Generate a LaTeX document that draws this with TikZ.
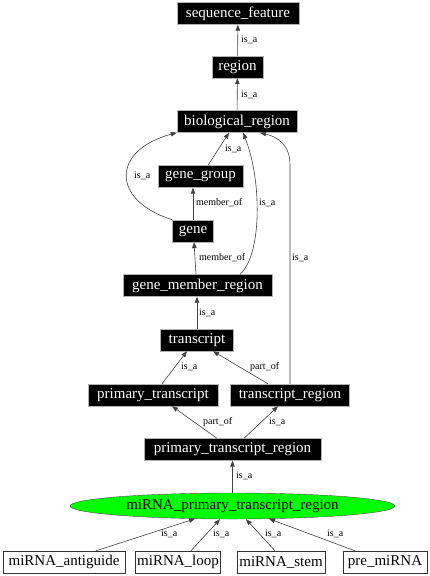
\documentclass[tikz,border=0pt]{standalone}
\usepackage{fontspec}
\setmainfont{Liberation Serif}
\usetikzlibrary{arrows.meta,shapes.geometric}
\tikzset{
  term/.style={rectangle, fill=black, draw=gray!60, text=white, font=\fontsize{15}{17}\selectfont, inner xsep=1pt, inner ysep=0pt, minimum height=22pt},
  leaf/.style={rectangle, fill=white, draw=black!80, text=black, font=\fontsize{15}{17}\selectfont, inner xsep=1pt, inner ysep=0pt, minimum height=22pt},
  focus/.style={ellipse, fill=green, draw=black!70, font=\fontsize{15}{17}\selectfont, inner sep=0pt, minimum width=325pt, minimum height=26pt},
  lbl/.style={font=\fontsize{10}{12}\selectfont, inner sep=0pt, anchor=west},
  edge/.style={draw=black!75, line width=0.6pt, -{Triangle[length=6pt,width=4.5pt]}}
}
\begin{document}
\begin{tikzpicture}[x=1pt,y=-1pt]
\useasboundingbox (0,0) rectangle (430,576);
% nodes
\node[term, minimum width=122pt] (sf) at (238,13.5) {sequence\_feature};
\node[term, minimum width=51pt] (reg) at (237.5,67) {region};
\node[term, minimum width=120pt] (bio) at (237,121.5) {biological\_region};
\node[term, minimum width=85pt] (gg) at (200.5,176.5) {gene\_group};
\node[term, minimum width=41pt] (gene) at (193,231) {gene};
\node[term, minimum width=149pt] (gmr) at (197.5,285.5) {gene\_member\_region};
\node[term, minimum width=73pt] (tr) at (197,340) {transcript};
\node[term, minimum width=130pt] (pt) at (153,395) {primary\_transcript};
\node[term, minimum width=119pt] (treg) at (290,395) {transcript\_region};
\node[term, minimum width=177pt] (ptr) at (232.5,449.5) {primary\_transcript\_region};
\node[focus] (mir) at (232.5,506) {miRNA\_primary\_transcript\_region};
\node[leaf, minimum width=122pt] (anti) at (64,562) {miRNA\_antiguide};
\node[leaf, minimum width=85pt] (loop) at (178,562) {miRNA\_loop};
\node[leaf, minimum width=88pt] (stem) at (281,562) {miRNA\_stem};
\node[leaf, minimum width=84pt] (pre) at (385,562) {pre\_miRNA};
% edges
\draw[edge] (reg) -- (sf);
\draw[edge] (bio) -- (reg);
\draw[edge] ([xshift=7.5pt]gg.north) -- ([xshift=-8pt]bio.south);
\draw[edge] (gene.north west) .. controls (110,200) and (112,150) .. (bio.south west);
\draw[edge] (gene.north) -- ([xshift=-7.5pt]gg.south);
\draw[edge] ([xshift=-1.5pt]gmr.north) -- ([xshift=1pt]gene.south);
\draw[edge] ([xshift=42.5pt]gmr.north) .. controls (262,255) and (262,180) .. ([xshift=6pt]bio.south);
\draw[edge] (treg.north) -- (290,165) .. controls (290,145) and (278,137) .. ([xshift=23pt]bio.south);
\draw[edge] (tr.north) -- ([xshift=-0.5pt]gmr.south);
\draw[edge] ([xshift=9pt]pt.north) -- ([xshift=-10pt]tr.south);
\draw[edge] ([xshift=-22pt]treg.north) -- ([xshift=16pt]tr.south);
\draw[edge] ([xshift=-15.5pt]ptr.north) -- ([xshift=19pt]pt.south);
\draw[edge] ([xshift=11.5pt]ptr.north) -- ([xshift=-12pt]treg.south);
\draw[edge] (mir.north) -- (ptr.south);
\draw[edge] ([xshift=32pt]anti.north) -- ([xshift=-37.5pt,yshift=0.4pt]mir.south);
\draw[edge] ([xshift=13pt]loop.north) -- ([xshift=-12.5pt]mir.south);
\draw[edge] ([xshift=-6pt]stem.north) -- ([xshift=13.5pt]mir.south);
\draw[edge] ([xshift=-30pt]pre.north) -- ([xshift=36.5pt,yshift=0.4pt]mir.south);
% labels
\node[lbl] (l1) at (241,40) {is\_a};
\node[lbl] (l2) at (241,95) {is\_a};
\node[lbl] (l3) at (225,149) {is\_a};
\node[lbl] (l4) at (134,176) {is\_a};
\node[lbl] (l5) at (196,203) {member\_of};
\node[lbl] (l6) at (259,203) {is\_a};
\node[lbl] (l7) at (199,258) {member\_of};
\node[lbl] (l8) at (292,258) {is\_a};
\node[lbl] (l9) at (199,313) {is\_a};
\node[lbl] (l10) at (181,367) {is\_a};
\node[lbl] (l11) at (250,367) {part\_of};
\node[lbl] (l12) at (203,422) {part\_of};
\node[lbl] (l13) at (269,422) {is\_a};
\node[lbl] (l14) at (236,476) {is\_a};
\node[lbl] (l15) at (161,534) {is\_a};
\node[lbl] (l16) at (213,534) {is\_a};
\node[lbl] (l17) at (265,534) {is\_a};
\node[lbl] (l18) at (327,534) {is\_a};
\end{tikzpicture}
\end{document}
